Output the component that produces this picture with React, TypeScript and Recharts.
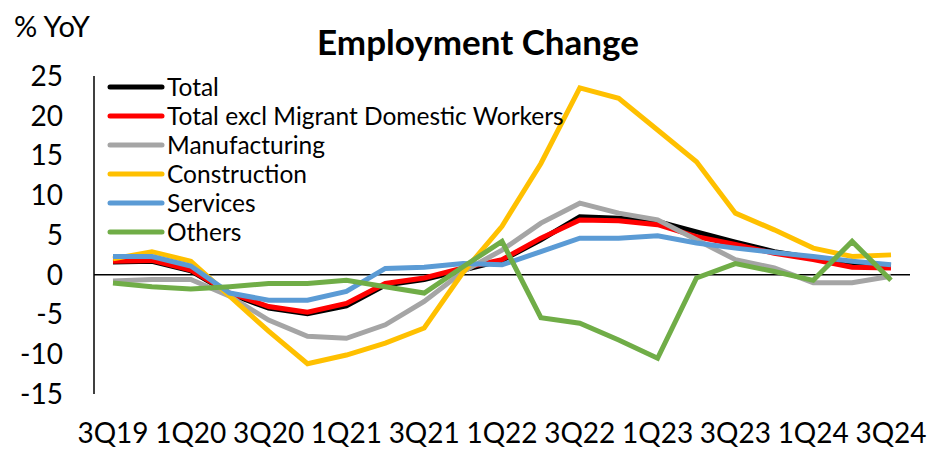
import React from 'react';
import { LineChart, Line, XAxis, YAxis, ReferenceLine, Legend } from 'recharts';

const quarters = [
  '3Q19', '4Q19', '1Q20', '2Q20', '3Q20', '4Q20', '1Q21', '2Q21', '3Q21', '4Q21', '1Q22',
  '2Q22', '3Q22', '4Q22', '1Q23', '2Q23', '3Q23', '4Q23', '1Q24', '2Q24', '3Q24',
];

const total = [1.6, 1.7, 0.5, -2.4, -4.2, -4.9, -3.9, -1.3, -0.6, 0.6, 1.8, 4.4, 7.3, 7.1, 6.7, 5.4, 4.1, 2.9, 2.1, 1.25, 1.1];
const totalExMdw = [1.7, 1.8, 0.6, -2.3, -4.0, -4.7, -3.6, -1.1, -0.4, 0.85, 1.9, 4.6, 6.9, 6.8, 6.3, 4.8, 3.8, 2.7, 1.9, 0.95, 0.85];
const manufacturing = [-0.8, -0.6, -0.6, -2.7, -5.7, -7.75, -8.0, -6.3, -3.35, 0.4, 3.1, 6.5, 9.0, 7.75, 6.9, 4.4, 1.9, 0.85, -1.0, -1.0, -0.2];
const construction = [2.0, 2.9, 1.7, -2.7, -7.1, -11.2, -10.1, -8.6, -6.7, 0.3, 6.1, 14.0, 23.5, 22.2, 18.2, 14.2, 7.75, 5.65, 3.35, 2.3, 2.5];
const services = [2.3, 2.3, 1.1, -2.3, -3.2, -3.2, -2.1, 0.8, 0.95, 1.4, 1.25, 2.9, 4.6, 4.6, 4.9, 4.0, 3.35, 2.8, 2.3, 1.7, 1.25];
const others = [-1.05, -1.5, -1.8, -1.5, -1.1, -1.1, -0.7, -1.5, -2.3, 1.0, 4.2, -5.4, -6.1, -8.2, -10.5, -0.4, 1.4, 0.4, -0.7, 4.2, -0.7];

const yTicks = [-15, -10, -5, 0, 5, 10, 15, 20, 25];

const series = [
  { key: 'total', name: 'Total', color: '#000000' },
  { key: 'totalExMdw', name: 'Total excl Migrant Domestic Workers', color: '#FF0000' },
  { key: 'manufacturing', name: 'Manufacturing', color: '#A5A5A5' },
  { key: 'construction', name: 'Construction', color: '#FFC000' },
  { key: 'services', name: 'Services', color: '#5B9BD5' },
  { key: 'others', name: 'Others', color: '#70AD47' },
];

const data = quarters.map((q, i) => ({
  q,
  total: total[i],
  totalExMdw: totalExMdw[i],
  manufacturing: manufacturing[i],
  construction: construction[i],
  services: services[i],
  others: others[i],
}));

// legend keeps the series order (recharts sorts the payload by name otherwise)
const renderLegend = () => (
  <div style={{ fontSize: 24.5, color: '#000', lineHeight: '29px' }}>
    {series.map((s) => (
      <div key={s.key} style={{ display: 'flex', alignItems: 'center', height: 29, whiteSpace: 'nowrap' }}>
        <svg width={60} height={10}>
          <line x1={3} y1={5} x2={55} y2={5} stroke={s.color} strokeWidth={5} strokeLinecap="round" />
        </svg>
        <span>{s.name}</span>
      </div>
    ))}
  </div>
);

export default function App() {
  return (
    <div style={{ position: 'absolute', left: 0, top: 0, width: 929, height: 449, background: '#fff', fontFamily: 'Lato, sans-serif' }}>
      <div style={{ position: 'absolute', left: 14, top: 8, fontSize: 29, color: '#000' }}>% YoY</div>
      <div style={{ position: 'absolute', left: 0, width: 956, top: 20, textAlign: 'center', fontSize: 35, fontWeight: 'bold', color: '#000' }}>
        Employment Change
      </div>
      <LineChart width={929} height={449} data={data} margin={{ top: 76, right: 19, bottom: 0, left: 0 }}>
        <XAxis
          dataKey="q"
          interval={1}
          padding={{ left: 19, right: 19 }}
          axisLine={false}
          tickLine={false}
          tickSize={0}
          tickMargin={29}
          height={55}
          tick={{ fill: '#000', fontSize: 28 }}
        />
        <YAxis
          width={94}
          domain={[-15, 25]}
          ticks={yTicks}
          interval={0}
          allowDataOverflow
          axisLine={{ stroke: '#000', strokeWidth: 1.5 }}
          tickLine={false}
          tickSize={0}
          tickMargin={31}
          tick={{ fill: '#000', fontSize: 28 }}
        />
        <ReferenceLine y={0} stroke="#000" strokeWidth={1.5} />
        <Legend
          content={renderLegend}
          layout="vertical"
          align="center"
          verticalAlign="middle"
          wrapperStyle={{ left: 107, top: 72, width: 500 }}
        />
        {series.map((s) => (
          <Line
            key={s.key}
            type="linear"
            dataKey={s.key}
            name={s.name}
            stroke={s.color}
            strokeWidth={5}
            dot={false}
            isAnimationActive={false}
          />
        ))}
      </LineChart>
    </div>
  );
}
